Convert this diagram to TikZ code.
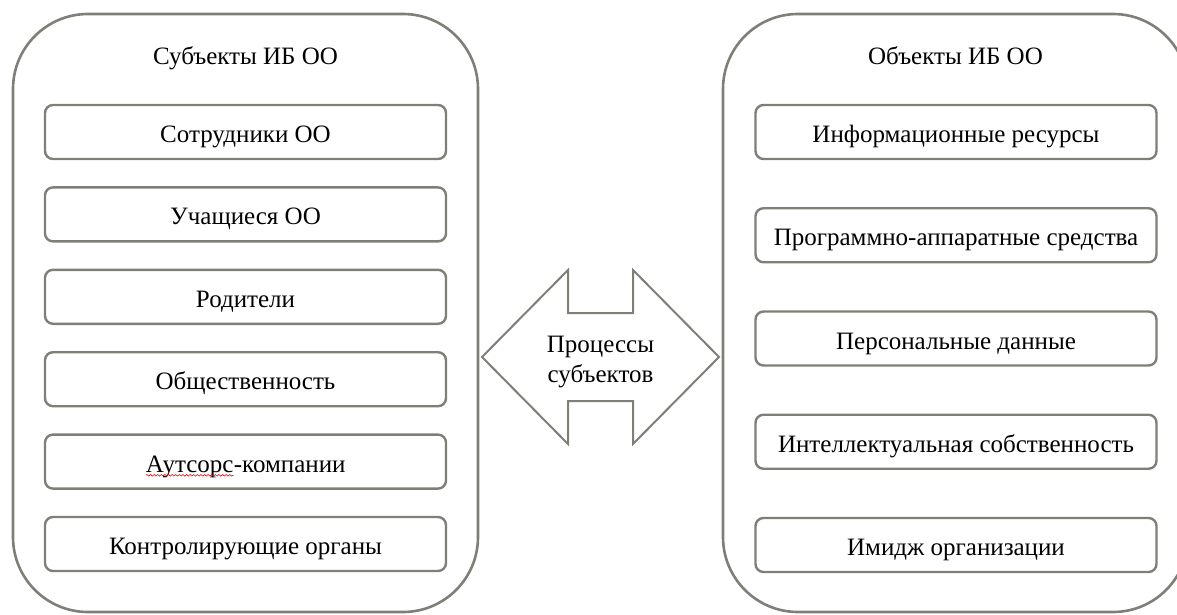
\documentclass[tikz,border=0pt]{standalone}
\usepackage{fontspec}
\setmainfont{Liberation Serif}
\usetikzlibrary{decorations.pathmorphing}
\definecolor{framegray}{RGB}{127,127,120}
\tikzset{
  container/.style={draw=framegray, line width=2.6pt, rounded corners=75pt,
                    minimum width=465pt, minimum height=598pt},
  itembox/.style={draw=framegray, line width=2.4pt, rounded corners=8pt,
                  minimum width=401pt, minimum height=54pt,
                  text height=21pt, text depth=0pt},
  caption/.style={font=\fontsize{25}{29.5}\selectfont, align=center},
  arrowline/.style={draw=framegray, line width=2pt, line join=miter},
  plainword/.style={draw=none, inner sep=0pt, outer sep=0pt, sharp corners,
                    minimum width=0pt, minimum height=0pt,
                    text height={}, text depth={}}
}
% red spell-check mark under a word
\newcommand\spellmark[1]{\tikz[baseline=(w.base), x=1pt, y=1pt]{%
  \node[plainword] (w) {#1};
  \draw[red, line width=0.6pt, sharp corners, decorate,
        decoration={snake, amplitude=0.8pt, segment length=3.6pt}]
    ([yshift=-3.2pt]w.base west) -- ([yshift=-3.2pt]w.base east);}}

\begin{document}
\begin{tikzpicture}[x=1pt, y=-1pt]
\useasboundingbox (0,0) rectangle (1177,615);

% two big frames
\node[container] (subj) at (245.5,313) {};
\node[container] (obj)  at (955.5,313) {};

\node[caption, anchor=base] (subjtitle) at (245.5,65) {Субъекты ИБ ОО};
\node[caption, anchor=base] (objtitle)  at (955.5,65) {Объекты ИБ ОО};

% subjects
\foreach \txt [count=\i from 0] in {Сотрудники ОО, Учащиеся ОО, Родители,
    Общественность, \spellmark{Аутсорс}-компании, Контролирующие органы}
  \node[itembox, caption] (s\i) at (245.5,132+82.4*\i) {\txt};

% objects
\foreach \txt [count=\i from 0] in {Информационные ресурсы,
    Программно-аппаратные средства, Персональные данные,
    Интеллектуальная собственность, Имидж организации}
  \node[itembox, caption] (o\i) at (956,132+103.25*\i) {\txt};

% double arrow in the middle
\coordinate (mid) at (600.5,357);
\node[caption] (proc) at (600.5,362) {Процессы\\субъектов};
\draw[arrowline, shift={(mid)}]
  (-118.5,0) -- (-32.5,-87) -- (-32.5,-44) -- (32.5,-44) -- (32.5,-87)
  -- (118.5,0) -- (32.5,87) -- (32.5,44) -- (-32.5,44) -- (-32.5,87) -- cycle;
\end{tikzpicture}
\end{document}
